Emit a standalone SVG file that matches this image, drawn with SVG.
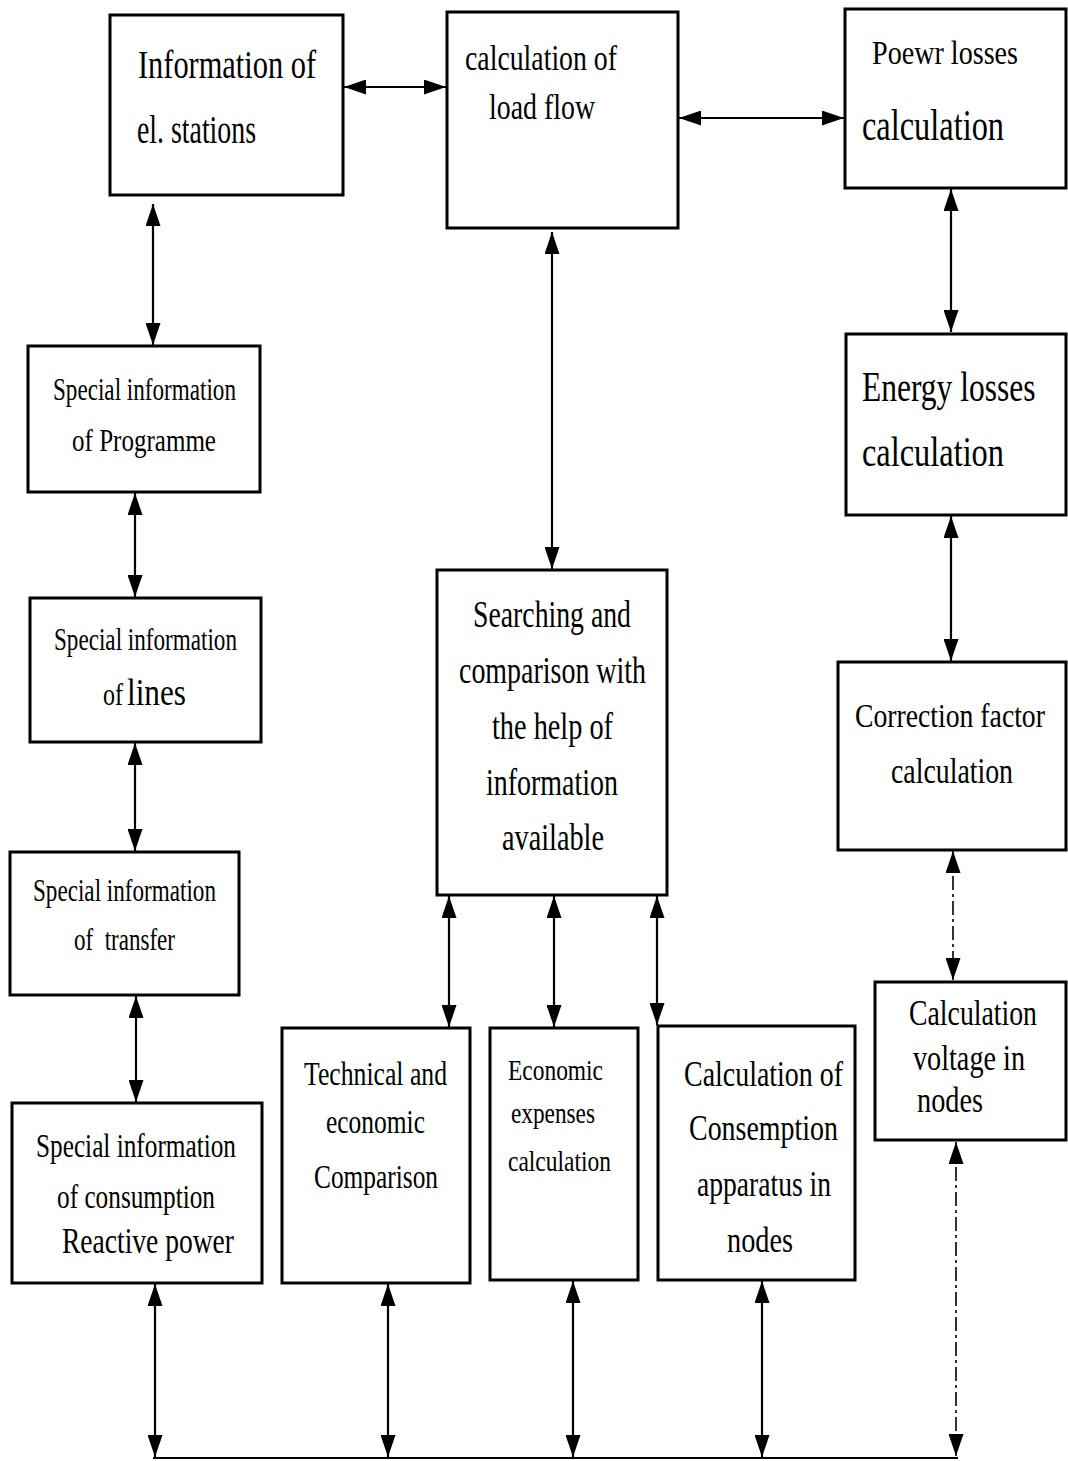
<svg xmlns="http://www.w3.org/2000/svg" width="1068" height="1461" viewBox="0 0 1068 1461">
<defs>
<style>
.box{fill:#fff;stroke:#000;stroke-width:3}
.t{font-family:"Liberation Serif","Times New Roman",serif;fill:#000}
.c{stroke:#000;stroke-width:2.2;fill:none}
.d{stroke:#000;stroke-width:1.6;fill:none;stroke-dasharray:14 4 3 4}
</style>
<marker id="ah" viewBox="0 0 22 15" refX="22" refY="7.5" markerWidth="22" markerHeight="15" markerUnits="userSpaceOnUse" orient="auto-start-reverse">
<path d="M0,0 L22,7.5 L0,15 z" fill="#000"/>
</marker>
</defs>
<rect width="1068" height="1461" fill="#fff"/>

<g id="connectors">
<line class="c" x1="344" y1="87" x2="446" y2="87" marker-start="url(#ah)" marker-end="url(#ah)"/>
<line class="c" x1="679" y1="118" x2="844" y2="118" marker-start="url(#ah)" marker-end="url(#ah)"/>
<line class="c" x1="153" y1="204" x2="153" y2="345" marker-start="url(#ah)" marker-end="url(#ah)"/>
<line class="c" x1="135" y1="493" x2="135" y2="597" marker-start="url(#ah)" marker-end="url(#ah)"/>
<line class="c" x1="135" y1="743" x2="135" y2="851" marker-start="url(#ah)" marker-end="url(#ah)"/>
<line class="c" x1="136" y1="996" x2="136" y2="1102" marker-start="url(#ah)" marker-end="url(#ah)"/>
<line class="c" x1="552" y1="232" x2="552" y2="569" marker-start="url(#ah)" marker-end="url(#ah)"/>
<line class="c" x1="449" y1="896" x2="449" y2="1027" marker-start="url(#ah)" marker-end="url(#ah)"/>
<line class="c" x1="554" y1="896" x2="554" y2="1027" marker-start="url(#ah)" marker-end="url(#ah)"/>
<line class="c" x1="657" y1="896" x2="657" y2="1025" marker-start="url(#ah)" marker-end="url(#ah)"/>
<line class="c" x1="951" y1="189" x2="951" y2="332" marker-start="url(#ah)" marker-end="url(#ah)"/>
<line class="c" x1="951" y1="516" x2="951" y2="661" marker-start="url(#ah)" marker-end="url(#ah)"/>
<line class="d" x1="953" y1="851" x2="953" y2="980" marker-start="url(#ah)" marker-end="url(#ah)"/>
<line class="d" x1="956" y1="1142" x2="956" y2="1456" marker-start="url(#ah)" marker-end="url(#ah)"/>
<line class="c" x1="155" y1="1284" x2="155" y2="1457" marker-start="url(#ah)" marker-end="url(#ah)"/>
<line class="c" x1="388" y1="1284" x2="388" y2="1457" marker-start="url(#ah)" marker-end="url(#ah)"/>
<line class="c" x1="573" y1="1281" x2="573" y2="1457" marker-start="url(#ah)" marker-end="url(#ah)"/>
<line class="c" x1="762" y1="1281" x2="762" y2="1457" marker-start="url(#ah)" marker-end="url(#ah)"/>
<line class="c" x1="153" y1="1458" x2="958" y2="1458"/>
</g>

<g id="n1">
<rect class="box" x="110" y="15" width="233" height="180"/>
<text class="t" x="138" y="78" font-size="40" textLength="178" lengthAdjust="spacingAndGlyphs">Information of</text>
<text class="t" x="137" y="143" font-size="40" textLength="119" lengthAdjust="spacingAndGlyphs">el. stations</text>
</g>
<g id="n2">
<rect class="box" x="447" y="12" width="231" height="216"/>
<text class="t" x="465" y="70" font-size="36" textLength="152" lengthAdjust="spacingAndGlyphs">calculation of</text>
<text class="t" x="489" y="119" font-size="36" textLength="106" lengthAdjust="spacingAndGlyphs">load flow</text>
</g>
<g id="n3">
<rect class="box" x="845" y="9" width="221" height="179"/>
<text class="t" x="872" y="64" font-size="34" textLength="146" lengthAdjust="spacingAndGlyphs">Poewr losses</text>
<text class="t" x="862" y="140" font-size="44" textLength="142" lengthAdjust="spacingAndGlyphs">calculation</text>
</g>
<g id="n4">
<rect class="box" x="28" y="346" width="232" height="146"/>
<text class="t" x="53" y="400" font-size="31" textLength="183" lengthAdjust="spacingAndGlyphs">Special information</text>
<text class="t" x="72" y="451" font-size="31" textLength="144" lengthAdjust="spacingAndGlyphs">of Programme</text>
</g>
<g id="n5">
<rect class="box" x="30" y="598" width="231" height="144"/>
<text class="t" x="54" y="650" font-size="31" textLength="183" lengthAdjust="spacingAndGlyphs">Special information</text>
<text class="t" x="103" y="705" font-size="31" textLength="20" lengthAdjust="spacingAndGlyphs">of</text>
<text class="t" x="127" y="705" font-size="38" textLength="59" lengthAdjust="spacingAndGlyphs">lines</text>
</g>
<g id="n6">
<rect class="box" x="10" y="852" width="229" height="143"/>
<text class="t" x="33" y="901" font-size="31" textLength="183" lengthAdjust="spacingAndGlyphs">Special information</text>
<text class="t" x="74" y="950" font-size="31" textLength="101" lengthAdjust="spacingAndGlyphs" xml:space="preserve">of  transfer</text>
</g>
<g id="n7">
<rect class="box" x="12" y="1103" width="250" height="180"/>
<text class="t" x="36" y="1157" font-size="34" textLength="200" lengthAdjust="spacingAndGlyphs">Special information</text>
<text class="t" x="57" y="1208" font-size="33" textLength="158" lengthAdjust="spacingAndGlyphs">of consumption</text>
<text class="t" x="62" y="1253" font-size="35" textLength="172" lengthAdjust="spacingAndGlyphs">Reactive power</text>
</g>
<g id="n8">
<rect class="box" x="437" y="570" width="230" height="325"/>
<text class="t" x="473" y="627" font-size="37" textLength="158" lengthAdjust="spacingAndGlyphs">Searching and</text>
<text class="t" x="459" y="683" font-size="37" textLength="187" lengthAdjust="spacingAndGlyphs">comparison with</text>
<text class="t" x="492" y="739" font-size="37" textLength="121" lengthAdjust="spacingAndGlyphs">the help of</text>
<text class="t" x="486" y="795" font-size="37" textLength="132" lengthAdjust="spacingAndGlyphs">information</text>
<text class="t" x="502" y="850" font-size="37" textLength="102" lengthAdjust="spacingAndGlyphs">available</text>
</g>
<g id="n9">
<rect class="box" x="282" y="1028" width="188" height="255"/>
<text class="t" x="304" y="1085" font-size="34" textLength="143" lengthAdjust="spacingAndGlyphs">Technical and</text>
<text class="t" x="326" y="1133" font-size="34" textLength="99" lengthAdjust="spacingAndGlyphs">economic</text>
<text class="t" x="314" y="1188" font-size="34" textLength="124" lengthAdjust="spacingAndGlyphs">Comparison</text>
</g>
<g id="n10">
<rect class="box" x="490" y="1028" width="148" height="252"/>
<text class="t" x="508" y="1080" font-size="30" textLength="95" lengthAdjust="spacingAndGlyphs">Economic</text>
<text class="t" x="511" y="1123" font-size="30" textLength="84" lengthAdjust="spacingAndGlyphs">expenses</text>
<text class="t" x="508" y="1171" font-size="30" textLength="103" lengthAdjust="spacingAndGlyphs">calculation</text>
</g>
<g id="n11">
<rect class="box" x="658" y="1026" width="197" height="254"/>
<text class="t" x="684" y="1086" font-size="35" textLength="159" lengthAdjust="spacingAndGlyphs">Calculation of</text>
<text class="t" x="689" y="1140" font-size="35" textLength="149" lengthAdjust="spacingAndGlyphs">Consemption</text>
<text class="t" x="697" y="1196" font-size="35" textLength="134" lengthAdjust="spacingAndGlyphs">apparatus in</text>
<text class="t" x="727" y="1252" font-size="35" textLength="66" lengthAdjust="spacingAndGlyphs">nodes</text>
</g>
<g id="n12">
<rect class="box" x="846" y="334" width="220" height="181"/>
<text class="t" transform="translate(862,401) scale(0.75,1)" x="0" y="0" font-size="42">Energy losses</text>
<text class="t" x="862" y="466" font-size="42" textLength="142" lengthAdjust="spacingAndGlyphs">calculation</text>
</g>
<g id="n13">
<rect class="box" x="838" y="662" width="228" height="188"/>
<text class="t" transform="translate(855,727) scale(0.815,1)" x="0" y="0" font-size="34">Correction factor</text>
<text class="t" x="891" y="783" font-size="35" textLength="122" lengthAdjust="spacingAndGlyphs">calculation</text>
</g>
<g id="n14">
<rect class="box" x="875" y="982" width="191" height="158"/>
<text class="t" x="909" y="1025" font-size="35" textLength="128" lengthAdjust="spacingAndGlyphs">Calculation</text>
<text class="t" x="913" y="1070" font-size="35" textLength="112" lengthAdjust="spacingAndGlyphs">voltage in</text>
<text class="t" x="917" y="1112" font-size="35" textLength="66" lengthAdjust="spacingAndGlyphs">nodes</text>
</g>
</svg>
